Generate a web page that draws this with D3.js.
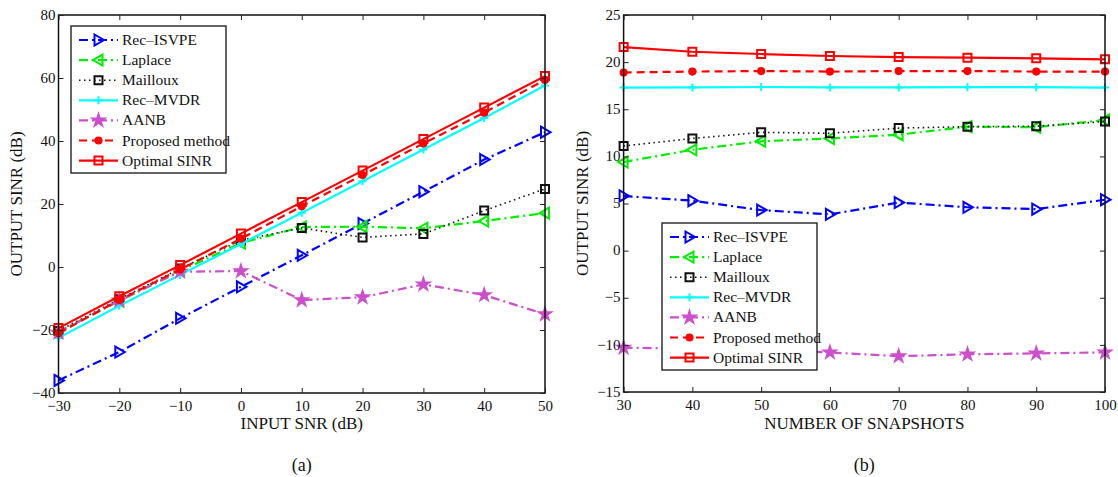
<!DOCTYPE html>
<html>
<head>
<meta charset="utf-8">
<script src="https://cdn.jsdelivr.net/npm/d3@7"></script>
<style>
  body { margin: 0; background: #fff; }
  svg text { font-family: "Liberation Serif", serif; fill: #111; }
</style>
</head>
<body>
<div id="chart"></div>
<script>
// series names, same for both panels
var seriesNames = ["Rec\u2013ISVPE", "Laplace", "Mailloux", "Rec\u2013MVDR", "AANB", "Proposed method", "Optimal SINR"];

// panel (a): output SINR vs input SNR
var snrIn = [-30, -20, -10, 0, 10, 20, 30, 40, 50];
var a_isvpe    = [-36, -27, -16.3, -6.3, 3.7, 13.8, 23.9, 34.1, 42.8];
var a_laplace  = [-20.5, -10.8, -1.2, 7.6, 12.7, 12.8, 12.3, 14.6, 17.1];
var a_mailloux = [-20.3, -10.2, -0.5, 8.5, 12.4, 9.4, 10.5, 17.9, 24.8];
var a_mvdr     = [-22.5, -12.3, -2.5, 7.3, 17.2, 27.2, 37.3, 47.3, 57.6];
var a_aanb     = [-20.8, -10.6, -1.5, -1.3, -10.5, -9.6, -5.5, -8.9, -15];
var a_proposed = [-21, -10.5, -0.8, 9, 19.3, 29.2, 39.2, 49, 59.4];
var a_optimal  = [-19.4, -9.3, 0.6, 10.6, 20.6, 30.6, 40.6, 50.6, 60.6];
var a_xticks = [-30, -20, -10, 0, 10, 20, 30, 40, 50];
var a_yticks = [-40, -20, 0, 20, 40, 60, 80];

// panel (b): output SINR vs number of snapshots
var snapshots = [30, 40, 50, 60, 70, 80, 90, 100];
var b_isvpe    = [5.8, 5.3, 4.3, 3.85, 5.1, 4.6, 4.4, 5.4];
var b_laplace  = [9.4, 10.7, 11.6, 11.9, 12.3, 13.15, 13.1, 13.85];
var b_mailloux = [11.1, 11.9, 12.55, 12.45, 13.0, 13.15, 13.2, 13.7];
var b_mvdr     = [17.3, 17.32, 17.36, 17.32, 17.32, 17.34, 17.34, 17.3];
var b_aanb     = [-10.3, -10.4, -10.5, -10.8, -11.2, -11.0, -10.9, -10.8];
var b_proposed = [18.9, 19.0, 19.05, 19.0, 19.05, 19.05, 19.0, 19.0];
var b_optimal  = [21.6, 21.1, 20.86, 20.65, 20.54, 20.47, 20.4, 20.3];
var b_xticks = [30, 40, 50, 60, 70, 80, 90, 100];
var b_yticks = [-15, -10, -5, 0, 5, 10, 15, 20, 25];

// line styles per series
var styles = [
  { color: "#0000ff", dash: "9,4,2,4", marker: "triR",   fill: "none" },
  { color: "#00ee00", dash: "9,4,2,4", marker: "triL",   fill: "none" },
  { color: "#111111", dash: "1.5,3.5", marker: "square", fill: "none" },
  { color: "#00ffff", dash: null,      marker: "plus",   fill: "none" },
  { color: "#cc4fcc", dash: "9,4,2,4", marker: "star",   fill: "#cc4fcc" },
  { color: "#ff0000", dash: "8,5",     marker: "circle", fill: "#ff0000" },
  { color: "#ff0000", dash: null,      marker: "square", fill: "none" }
];

var serif = '"Liberation Serif", "Times New Roman", serif';
var W = 1118, H = 477;
var svg = d3.select("#chart").append("svg").attr("width", W).attr("height", H);

function fmt(d) { return d < 0 ? "\u2212" + (-d) : "" + d; }

function markerPath(type) {
  switch (type) {
    case "triR": return "M-4,-5.5L5.5,0L-4,5.5Z";
    case "triL": return "M4,-5.5L-5.5,0L4,5.5Z";
    case "square": return "M-4,-4H4V4H-4Z";
    case "plus": return "M-4,0H4M0,-4V4";
    case "circle": return d3.symbol(d3.symbolCircle, 30)();
    case "star": return d3.symbol(d3.symbolStar, 42)();
  }
}

function drawPanel(cfg) {
  var g = svg.append("g");
  var x = d3.scaleLinear().domain(cfg.xdom).range([cfg.left, cfg.right]);
  var y = d3.scaleLinear().domain(cfg.ydom).range([cfg.bottom, cfg.top]);

  // data lines
  cfg.series.forEach(function(vals, i) {
    var st = styles[i];
    var pts = cfg.xs.map(function(d, j) { return [d, vals[j]]; });
    g.append("path")
      .attr("d", d3.line().x(function(d) { return x(d[0]); }).y(function(d) { return y(d[1]); })(pts))
      .attr("fill", "none")
      .attr("stroke", st.color)
      .attr("stroke-width", i == 2 ? 1.6 : 2.2)
      .attr("stroke-dasharray", st.dash);
    g.selectAll(null).data(pts).enter().append("path")
      .attr("transform", function(d) { return "translate(" + x(d[0]) + "," + y(d[1]) + ")"; })
      .attr("d", markerPath(st.marker))
      .attr("fill", st.fill)
      .attr("stroke", st.color)
      .attr("stroke-width", 2);
  });

  // frame
  g.append("rect")
    .attr("x", cfg.left).attr("y", cfg.top)
    .attr("width", cfg.right - cfg.left).attr("height", cfg.bottom - cfg.top)
    .attr("fill", "none").attr("stroke", "#111").attr("stroke-width", 1.5);

  // axes with inward ticks
  var ax = g.append("g").attr("transform", "translate(0," + cfg.bottom + ")")
    .call(d3.axisBottom(x).tickValues(cfg.xticks).tickSize(-5).tickPadding(7).tickFormat(fmt));
  var ax2 = g.append("g").attr("transform", "translate(0," + cfg.top + ")")
    .call(d3.axisTop(x).tickValues(cfg.xticks).tickSize(-5).tickFormat(""));
  var ay = g.append("g").attr("transform", "translate(" + cfg.left + ",0)")
    .call(d3.axisLeft(y).tickValues(cfg.yticks).tickSize(-5).tickPadding(3).tickFormat(fmt));
  var ay2 = g.append("g").attr("transform", "translate(" + cfg.right + ",0)")
    .call(d3.axisRight(y).tickValues(cfg.yticks).tickSize(-5).tickFormat(""));
  [ax, ax2, ay, ay2].forEach(function(a) {
    a.attr("font-family", serif).attr("font-size", 15);
    a.select(".domain").remove();
    a.selectAll("line").attr("stroke", "#222");
    a.selectAll("text").attr("fill", "#111");
  });
  ay.selectAll("text").attr("dy", "0.28em");

  // axis titles
  g.append("text").attr("x", (cfg.left + cfg.right) / 2).attr("y", 429)
    .attr("text-anchor", "middle").attr("font-family", serif).attr("font-size", 17).text(cfg.xlabel);
  g.append("text").attr("transform", "translate(" + cfg.ylabx + "," + (cfg.top + cfg.bottom) / 2 + ") rotate(-90)")
    .attr("text-anchor", "middle").attr("font-family", serif).attr("font-size", 17).text("OUTPUT SINR (dB)");
  g.append("text").attr("x", (cfg.left + cfg.right) / 2).attr("y", 471)
    .attr("text-anchor", "middle").attr("font-family", serif).attr("font-size", 18).text(cfg.caption);

  // legend
  var lg = g.append("g").attr("transform", "translate(" + cfg.legX + "," + cfg.legY + ")");
  lg.append("rect").attr("width", 155).attr("height", 147)
    .attr("fill", "#fff").attr("stroke", "#111").attr("stroke-width", 1.3);
  seriesNames.forEach(function(name, i) {
    var st = styles[i];
    var ry = 14 + i * 20.1;
    lg.append("line").attr("x1", 8).attr("x2", 47).attr("y1", ry).attr("y2", ry)
      .attr("stroke", st.color).attr("stroke-width", i == 2 ? 1.6 : 2.2)
      .attr("stroke-dasharray", st.dash);
    lg.append("path").attr("transform", "translate(27.5," + ry + ")")
      .attr("d", markerPath(st.marker)).attr("fill", st.fill)
      .attr("stroke", st.color).attr("stroke-width", 2);
    lg.append("text").attr("x", 51).attr("y", ry + 5).attr("font-family", serif)
      .attr("font-size", 15.5).text(name);
  });
}

drawPanel({
  xs: snrIn, series: [a_isvpe, a_laplace, a_mailloux, a_mvdr, a_aanb, a_proposed, a_optimal],
  xdom: [-30, 50], ydom: [-40, 80], xticks: a_xticks, yticks: a_yticks,
  left: 58.5, right: 545, top: 15, bottom: 393,
  xlabel: "INPUT SNR (dB)", ylabx: 22, caption: "(a)", legX: 71, legY: 26
});

drawPanel({
  xs: snapshots, series: [b_isvpe, b_laplace, b_mailloux, b_mvdr, b_aanb, b_proposed, b_optimal],
  xdom: [30, 100], ydom: [-15, 25], xticks: b_xticks, yticks: b_yticks,
  left: 623.6, right: 1105, top: 15, bottom: 392,
  xlabel: "NUMBER OF SNAPSHOTS", ylabx: 588, caption: "(b)", legX: 662, legY: 223
});
</script>
</body>
</html>
